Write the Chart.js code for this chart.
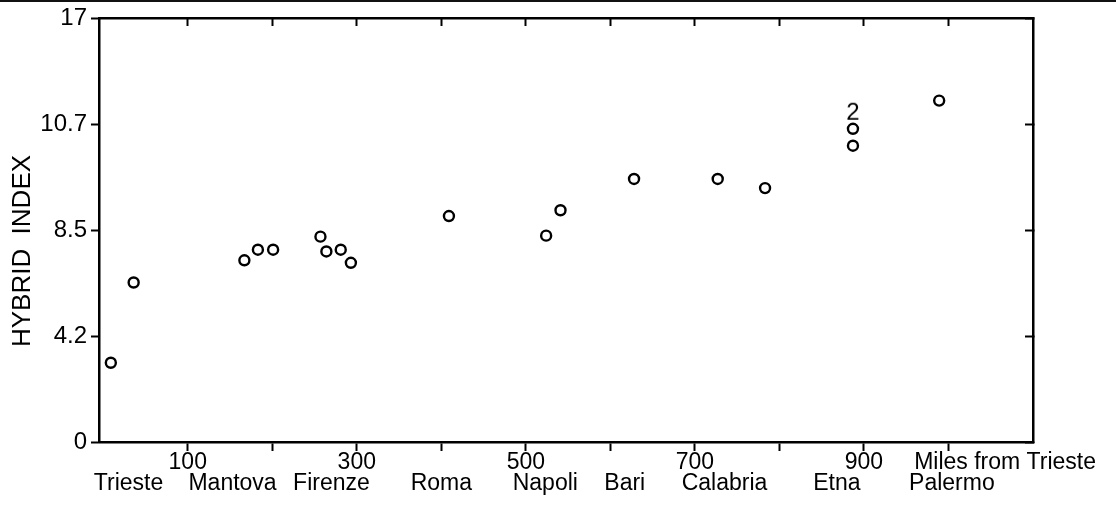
<!DOCTYPE html>
<html>
<head>
<meta charset="utf-8">
<script src="https://cdn.jsdelivr.net/npm/chart.js@4.4.0/dist/chart.umd.min.js"></script>
<style>
  html, body { margin: 0; padding: 0; background: #fff; }
  #wrap { position: relative; width: 1116px; height: 506px; }
  #topline { position: absolute; left: 0; top: 0; width: 1116px; height: 2px; background: #111; }
</style>
</head>
<body>
<div id="wrap">
  <canvas id="chart" width="1116" height="506"></canvas>
  <div id="topline"></div>
</div>
<script>
// hybrid index against distance from Trieste (miles)
var miles       = [9, 36, 167, 183, 201, 257, 264, 281, 293, 409, 524, 541, 628, 727, 783, 887, 887, 989];
var hybridIndex = [3.14, 6.37, 7.27, 7.70, 7.70, 8.23, 7.63, 7.70, 7.17, 8.79, 8.27, 8.91, 9.56, 9.56, 9.37, 10.60, 10.25, 12.09];

// two samples on the same spot, plotted as a "2"
var doubleMiles = [887];
var doubleIndex = [11.49];

// y axis: equally spaced ticks carrying these labels
var yTicks = [0, 4.2, 8.5, 10.7, 17];

// x axis
var xTickMiles = [100, 200, 300, 400, 500, 600, 700, 800, 900, 1000];
var xLabelled  = [100, 300, 500, 700, 900];
var axisNote = 'Miles from Trieste';
var axisNoteMiles = 1067;

var cities    = ['Trieste', 'Mantova', 'Firenze', 'Roma', 'Napoli', 'Bari', 'Calabria', 'Etna', 'Palermo'];
var cityMiles = [30, 153, 270, 400, 523, 617, 735, 868, 1004];

var FONT = "'Liberation Sans', Arial, sans-serif";
Chart.defaults.font.family = FONT;
Chart.defaults.color = '#000';

// piecewise position of a hybrid index value between the labelled ticks
function toAxis(v) {
  for (var i = 0; i < yTicks.length - 1; i++) {
    if (v <= yTicks[i + 1]) return i + (v - yTicks[i]) / (yTicks[i + 1] - yTicks[i]);
  }
  return yTicks.length - 1;
}

function pts(xs, ys) {
  return xs.map(function (m, i) { return { x: m, y: toAxis(ys[i]) }; });
}

// the "2" marker
var two = document.createElement('canvas');
two.width = 16; two.height = 24;
var tc = two.getContext('2d');
tc.font = '24px ' + FONT;
tc.fillStyle = '#000';
tc.textAlign = 'center';
tc.fillText('2', 8, 20.6);

var yTitle = {
  id: 'yTitle',
  afterDraw: function (chart) {
    var c = chart.ctx;
    c.save();
    c.translate(23, 251);
    c.rotate(-Math.PI / 2);
    c.font = '26px ' + FONT;
    c.fillStyle = '#000';
    c.textAlign = 'center';
    c.textBaseline = 'middle';
    c.fillText('HYBRID  INDEX', 0, 0);
    c.restore();
  }
};

var xRange = { min: -5, max: 1100 };

new Chart(document.getElementById('chart'), {
  type: 'scatter',
  data: {
    datasets: [{
      data: pts(miles, hybridIndex),
      pointStyle: 'circle',
      pointRadius: 5,
      borderWidth: 2.4,
      borderColor: '#000',
      backgroundColor: 'rgba(0,0,0,0)'
    }, {
      data: pts(doubleMiles, doubleIndex),
      pointStyle: two,
      pointRadius: 8
    }]
  },
  options: {
    responsive: false,
    animation: false,
    events: [],
    layout: { padding: 0 },
    plugins: { legend: { display: false }, tooltip: { enabled: false } },
    scales: {
      x: {
        type: 'linear', position: 'bottom', min: xRange.min, max: xRange.max, weight: 0,
        afterBuildTicks: function (s) {
          s.ticks = xTickMiles.map(function (v) { return { value: v }; }).concat([{ value: axisNoteMiles }]);
        },
        ticks: {
          autoSkip: false, maxRotation: 0, padding: 0,
          font: { size: 23, lineHeight: 1 },
          callback: function (v) {
            if (v === axisNoteMiles) return axisNote;
            return xLabelled.indexOf(v) >= 0 ? String(v) : '';
          }
        },
        grid: {
          drawOnChartArea: false, tickLength: 9, tickWidth: 2, color: '#000',
          tickColor: function (ctx) {
            return ctx.tick && ctx.tick.value === axisNoteMiles ? 'rgba(0,0,0,0)' : '#000';
          }
        },
        border: { display: true, color: '#000', width: 2.5 },
        afterFit: function (s) { s.height = 30; }
      },
      xCity: {
        type: 'linear', position: 'bottom', min: xRange.min, max: xRange.max, weight: 1,
        afterBuildTicks: function (s) {
          s.ticks = cityMiles.map(function (v) { return { value: v }; });
        },
        ticks: {
          autoSkip: false, maxRotation: 0, padding: 0,
          font: { size: 23, lineHeight: 1 },
          callback: function (v, i) { return cities[i]; }
        },
        grid: { display: false, drawTicks: false, drawOnChartArea: false },
        border: { display: false },
        afterFit: function (s) { s.height = 34; }
      },
      xTop: {
        type: 'linear', position: 'top', min: xRange.min, max: xRange.max,
        afterBuildTicks: function (s) {
          s.ticks = xTickMiles.map(function (v) { return { value: v }; });
        },
        ticks: { display: false },
        grid: { drawOnChartArea: false, tickLength: -8, tickWidth: 2, color: '#000' },
        border: { display: true, color: '#000', width: 2.5 },
        afterFit: function (s) { s.height = 18; }
      },
      y: {
        type: 'linear', position: 'left', min: 0, max: yTicks.length - 1,
        afterBuildTicks: function (s) {
          s.ticks = yTicks.map(function (v, i) { return { value: i }; });
        },
        ticks: {
          padding: 4, font: { size: 24, lineHeight: 1 },
          callback: function (v, i) { return String(yTicks[i]); }
        },
        grid: { drawOnChartArea: false, tickLength: 8, tickWidth: 2, color: '#000' },
        border: { display: true, color: '#000', width: 2.5 },
        afterFit: function (s) { s.width = 99; }
      },
      yRight: {
        type: 'linear', position: 'right', min: 0, max: yTicks.length - 1,
        afterBuildTicks: function (s) {
          s.ticks = yTicks.map(function (v, i) { return { value: i }; });
        },
        ticks: { display: false },
        grid: { drawOnChartArea: false, tickLength: -8, tickWidth: 2, color: '#000' },
        border: { display: true, color: '#000', width: 2.5 },
        afterFit: function (s) { s.width = 83; }
      }
    }
  },
  plugins: [yTitle]
});
</script>
</body>
</html>
